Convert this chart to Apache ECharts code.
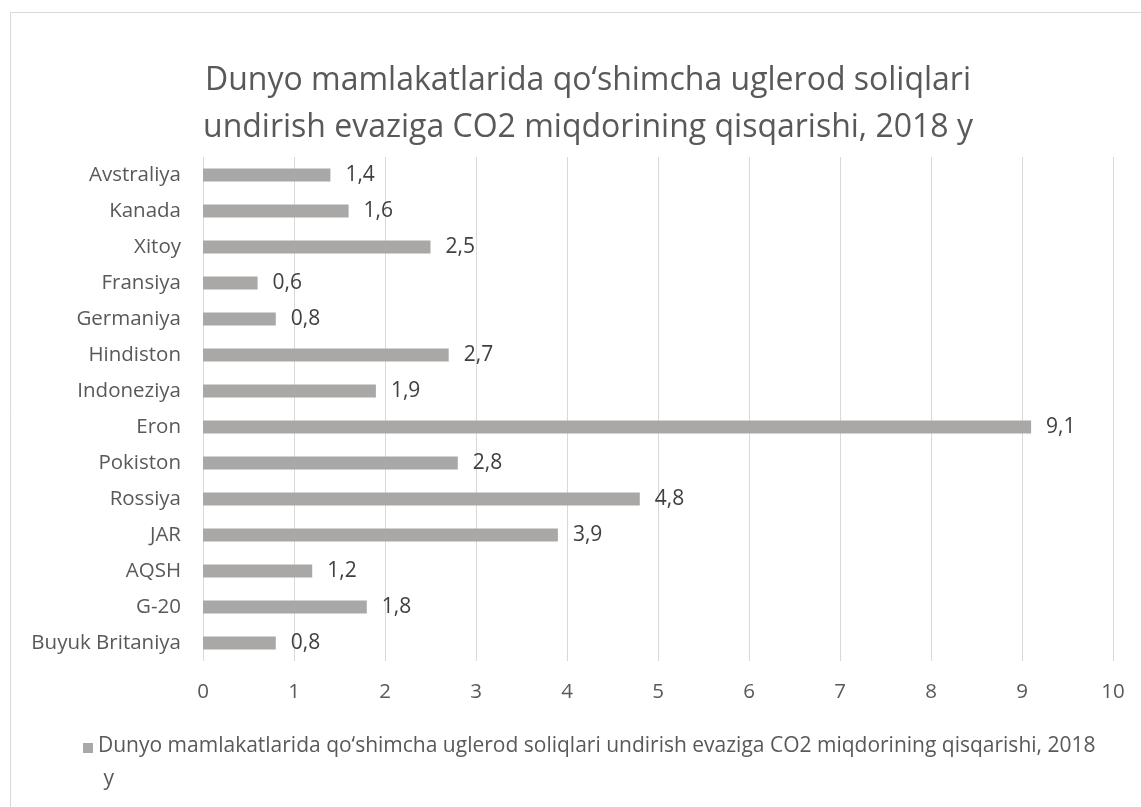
<!DOCTYPE html>
<html>
<head>
<meta charset="utf-8">
<script src="https://cdn.jsdelivr.net/npm/echarts@6/dist/echarts.min.js"></script>
<style>
    html, body { margin: 0; padding: 0; background: #fff; }
    #chartMain { width: 1141px; height: 807px; }
</style>
</head>
<body>
<div id="chartMain"></div>
<script>
// top to bottom, as in the picture
const countries = ['Avstraliya', 'Kanada', 'Xitoy', 'Fransiya', 'Germaniya', 'Hindiston', 'Indoneziya',
    'Eron', 'Pokiston', 'Rossiya', 'JAR', 'AQSH', 'G-20', 'Buyuk Britaniya'];
const reduction = [1.4, 1.6, 2.5, 0.6, 0.8, 2.7, 1.9, 9.1, 2.8, 4.8, 3.9, 1.2, 1.8, 0.8];
const xTicks = [0, 1, 2, 3, 4, 5, 6, 7, 8, 9, 10];

const seriesName = 'Dunyo mamlakatlarida qo\u2018shimcha uglerod soliqlari undirish evaziga CO2 miqdorining qisqarishi, 2018 y';

const barChartInit = () => {
    var chartDom = document.getElementById('chartMain');
    var myChart = echarts.init(chartDom);
    var font = '"Open Sans", sans-serif';
    var option;

    option = {
        animation: false,
        textStyle: { fontFamily: font },
        title: {
            text: 'Dunyo mamlakatlarida qo\u2018shimcha uglerod soliqlari\nundirish evaziga CO2 miqdorining qisqarishi, 2018 y',
            left: 583,
            textAlign: 'center',
            top: 52,
            textStyle: {
                fontFamily: font,
                fontWeight: 'normal',
                fontSize: 32,
                lineHeight: 47,
                color: '#595959'
            }
        },
        graphic: [
            { type: 'line', shape: { x1: 10.5, y1: 12.5, x2: 1141, y2: 12.5 }, style: { stroke: '#d9d9d9', lineWidth: 1 } },
            { type: 'line', shape: { x1: 10.5, y1: 12.5, x2: 10.5, y2: 807 }, style: { stroke: '#d9d9d9', lineWidth: 1 } }
        ],
        legend: {
            left: 78,
            top: 725,
            itemWidth: 10,
            itemHeight: 44,
            itemGap: 4,
            // square at the top of a taller item, so it lines up with the first text line
            icon: 'path://M0,0H11V11H0Z M0,44H11',
            textStyle: {
                fontFamily: font,
                fontSize: 21,
                color: '#595959',
                width: 1015,
                overflow: 'break',
                lineHeight: 33
            },
            data: [seriesName]
        },
        grid: {
            left: 203,
            right: 28,
            top: 157,
            bottom: 146
        },
        xAxis: {
            type: 'value',
            min: xTicks[0],
            max: xTicks[xTicks.length - 1],
            interval: 1,
            axisLine: { show: false },
            axisTick: { show: false },
            splitLine: { lineStyle: { color: '#d9d9d9', width: 1 } },
            axisLabel: {
                fontFamily: font,
                fontSize: 20.5,
                color: '#595959',
                margin: 21
            }
        },
        yAxis: {
            type: 'category',
            inverse: true,
            data: countries,
            axisLine: { show: false },
            axisTick: { show: false },
            axisLabel: {
                fontFamily: font,
                fontSize: 20.5,
                color: '#595959',
                margin: 22
            }
        },
        series: [{
            name: seriesName,
            type: 'bar',
            data: reduction,
            barWidth: 13,
            itemStyle: { color: '#aaa7a7' },
            label: {
                show: true,
                position: 'right',
                distance: 15,
                fontFamily: font,
                fontSize: 21,
                color: '#404040',
                formatter: function (p) { return String(p.value).replace('.', ','); }
            }
        }]
    };

    option && myChart.setOption(option);
};

barChartInit();
</script>
</body>
</html>
